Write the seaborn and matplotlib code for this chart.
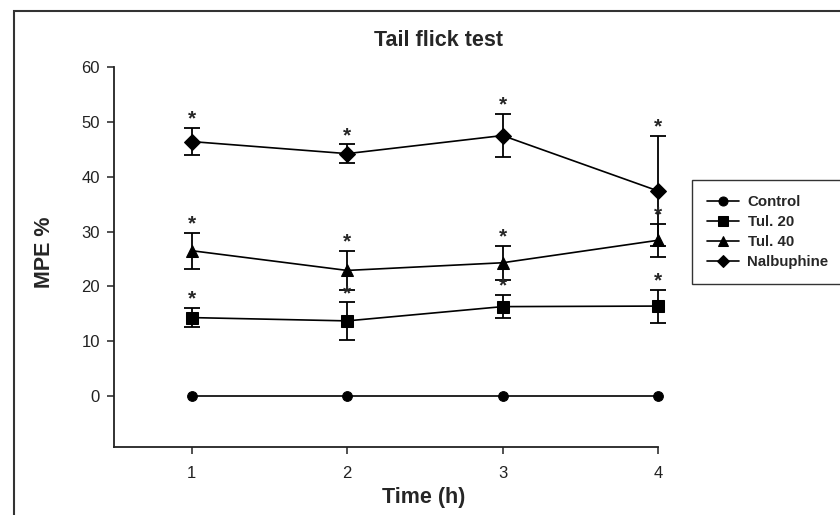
import numpy as np
import pandas as pd
import matplotlib
matplotlib.use("Agg")
import matplotlib.pyplot as plt
import matplotlib.patches as patches
import seaborn as sns

# Dados (média ± erro)
tempos = [1, 2, 3, 4]
grupos = ['Control', 'Tul. 20', 'Tul. 40', 'Nalbuphine']
marcadores = ['o', 's', '^', 'D']
tam_marcador = [7, 8, 8, 8]

control = [0, 0, 0, 0]
tul20 = [14.3, 13.7, 16.3, 16.4]
tul40 = [26.5, 22.9, 24.3, 28.4]
nalbuphine = [46.4, 44.2, 47.5, 37.4]

err_control = [0, 0, 0, 0]
err_tul20 = [1.8, 3.4, 2.1, 3.0]
err_tul40 = [3.3, 3.6, 3.1, 3.0]
err_nalbuphine = [2.5, 1.7, 4.0, 10.0]

# grupos com asterisco (significativo)
signif = [False, True, True, True]

sns.set_style('ticks')
plt.rcParams['font.family'] = ['Liberation Sans', 'DejaVu Sans']

fig = plt.figure(figsize=(8.4, 5.15), dpi=100)
ax = fig.add_axes([114 / 840, 68 / 515, 544 / 840, 380 / 515])

medias = [control, tul20, tul40, nalbuphine]
erros = [err_control, err_tul20, err_tul40, err_nalbuphine]

for nome, m, ms, vals, err, sig in zip(grupos, marcadores, tam_marcador, medias, erros, signif):
    df = pd.DataFrame({'Tempo': tempos, 'MPE': vals})
    if any(e > 0 for e in err):
        ax.errorbar(df['Tempo'], df['MPE'], yerr=err, fmt='none', ecolor='black',
                    elinewidth=1.3, capsize=5.5, capthick=1.3, zorder=2)
    sns.lineplot(data=df, x='Tempo', y='MPE', marker=m, markersize=ms, color='black',
                 linewidth=1.2, markeredgecolor='black', label=nome, ax=ax, zorder=3)
    if sig:
        for t, v, e in zip(tempos, vals, err):
            ax.annotate('*', (t, v + e), xytext=(0, -0.5), textcoords='offset points',
                        ha='center', va='bottom', fontsize=15, fontweight='bold',
                        annotation_clip=False)

# nada cortado na borda direita do eixo
for art in ax.get_children():
    if isinstance(art, (matplotlib.lines.Line2D, matplotlib.collections.Collection)):
        art.set_clip_on(False)

ax.set_xlim(0.5, 4)
ax.set_ylim(-9.3, 60)
ax.set_xticks(tempos)
ax.set_yticks(np.arange(0, 61, 10))
ax.tick_params(axis='both', labelsize=12, length=5, width=1.1, color='#222222',
               direction='out', labelcolor='#222222')
ax.tick_params(axis='x', pad=9)
ax.tick_params(axis='y', pad=5)
for lado in ['top', 'right']:
    ax.spines[lado].set_visible(False)
for lado in ['left', 'bottom']:
    ax.spines[lado].set_linewidth(1.3)
    ax.spines[lado].set_color('#222222')

ax.set_xlabel('')
ax.set_ylabel('')
fig.text(424 / 840, 1 - 498 / 515, 'Time (h)', ha='center', va='center',
         fontsize=15.5, fontweight='bold')
fig.text(45 / 840, 1 - 252 / 515, 'MPE %', ha='center', va='center', rotation=90,
         fontsize=15.5, fontweight='bold')
fig.text(439 / 840, 1 - 40 / 515, 'Tail flick test', ha='center', va='center',
         fontsize=15.5, fontweight='bold')

leg = ax.legend(loc='upper left', bbox_to_anchor=(692 / 840, 1 - 180 / 515),
                bbox_transform=fig.transFigure, borderaxespad=0, fancybox=False,
                frameon=True, edgecolor='#333333', framealpha=1,
                prop={'size': 10.8, 'weight': 'bold'}, handlelength=2.1,
                handletextpad=0.6, labelspacing=0.4, borderpad=1.0)
leg.get_frame().set_linewidth(1.0)
for h in leg.legend_handles:
    h.set_markersize(6.5)

# moldura externa
fig.patches.append(patches.Rectangle((14 / 840, -0.1), 1.2, 0.1 + 1 - 11 / 515,
                                     transform=fig.transFigure, fill=False,
                                     edgecolor='#333333', linewidth=1.5))

plt.savefig('out.png', dpi=100)
